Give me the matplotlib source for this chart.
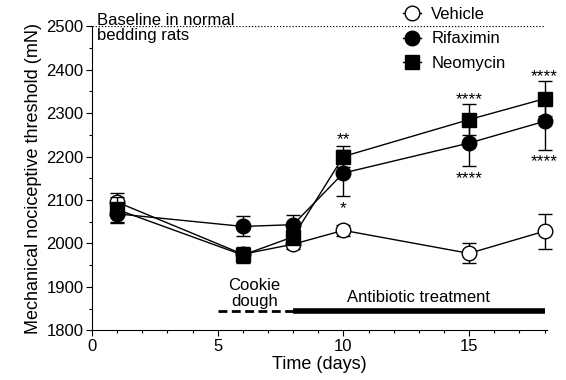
import matplotlib
matplotlib.use("Agg")
import matplotlib.pyplot as plt
from matplotlib.lines import Line2D
from matplotlib.ticker import MultipleLocator

plt.rcParams["font.family"] = ["Liberation Sans", "DejaVu Sans"]

# ── data ──
days = [1, 6, 8, 10, 15, 18]

vehicle = [2095, 1975, 1998, 2030, 1977, 2028]
vehicle_err = [22, 15, 10, 12, 23, 40]

rifaximin = [2068, 2039, 2043, 2162, 2231, 2281]
rifaximin_err = [22, 23, 23, 54, 52, 65]

neomycin = [2078, 1973, 2015, 2200, 2285, 2333]
neomycin_err = [28, 18, 18, 25, 36, 40]

baseline = 2500

# significance marks: (day, y, text)
stars_day = [10, 10, 15, 15, 18, 18]
stars_y = [2238, 2080, 2332, 2150, 2384, 2188]
stars_txt = ["**", "*", "****", "****", "****", "****"]

# ── figure ──
fig = plt.figure(figsize=(5.66, 3.80), dpi=100)
ax = fig.add_axes([0.1625, 0.131, 0.804, 0.80])

ax.axhline(baseline, color="black", linestyle=(0, (1, 1.5)), linewidth=0.9, xmax=0.995)

common = dict(color="black", linewidth=1.0, capsize=5, elinewidth=1.0,
              capthick=1.0, markersize=10.5, clip_on=False)
ax.errorbar(days, vehicle, yerr=vehicle_err, marker="o", markerfacecolor="white",
            markeredgecolor="black", markeredgewidth=1.0, zorder=3, **common)
ax.errorbar(days, rifaximin, yerr=rifaximin_err, marker="o", markerfacecolor="black",
            zorder=4, **common)
ax.errorbar(days, neomycin, yerr=neomycin_err, marker="s", markerfacecolor="black",
            zorder=5, **common)

for d, y, t in zip(stars_day, stars_y, stars_txt):
    ax.text(d, y, t, ha="center", va="center", fontsize=12.5)

# treatment bars
ax.plot([5, 8], [1845, 1845], color="black", linestyle=(0, (3.2, 1.6)), linewidth=2)
ax.plot([8, 18], [1845, 1845], color="black", linewidth=4, solid_capstyle="butt")
ax.text(6.45, 1885, "Cookie\ndough", ha="center", va="center", fontsize=12, linespacing=1.05)
ax.text(13, 1876, "Antibiotic treatment", ha="center", va="center", fontsize=12)

ax.text(0.2, 2530, "Baseline in normal\nbedding rats", ha="left", va="top",
        fontsize=12, linespacing=0.95)

ax.set_xlim(0, 18.1)
ax.set_ylim(1800, 2500)
ax.xaxis.set_major_locator(MultipleLocator(5))
ax.xaxis.set_minor_locator(MultipleLocator(1))
ax.yaxis.set_major_locator(MultipleLocator(100))
ax.yaxis.set_minor_locator(MultipleLocator(50))
ax.tick_params(which="major", length=4, width=0.8, labelsize=12, pad=2)
ax.tick_params(which="minor", length=2.5, width=0.8)
ax.spines["top"].set_visible(False)
ax.spines["right"].set_visible(False)

ax.set_xlabel("Time (days)", fontsize=13, labelpad=2)
ax.set_ylabel("Mechanical nociceptive threshold (mN)", fontsize=13, labelpad=3)

# legend: marker with a short line through it
handles = [
    Line2D([], [], color="black", lw=1.0, marker="o", markersize=10.5,
           markerfacecolor="white", markeredgecolor="black"),
    Line2D([], [], color="black", lw=1.0, marker="o", markersize=10.5,
           markerfacecolor="black"),
    Line2D([], [], color="black", lw=1.0, marker="s", markersize=10.5,
           markerfacecolor="black"),
]
ax.legend(handles, ["Vehicle", "Rifaximin", "Neomycin"], loc="upper left",
          bbox_to_anchor=(0.665, 1.09), frameon=False, fontsize=12,
          handlelength=1.1, handletextpad=0.6, labelspacing=0.55, borderpad=0)

fig.savefig("out.png", dpi=100)
